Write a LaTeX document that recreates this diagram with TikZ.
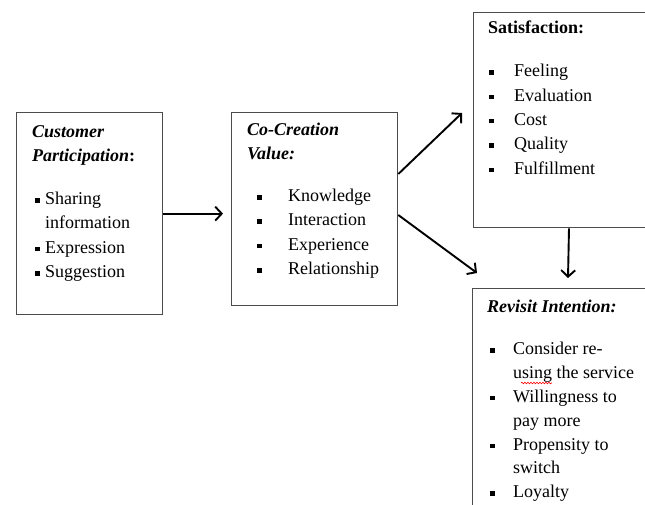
\documentclass[tikz,border=0pt]{standalone}
\usepackage{fontspec}
\setmainfont{LiberationSerif}[Extension=.ttf, UprightFont=*-Regular, BoldFont=*-Bold, ItalicFont=*-Italic, BoldItalicFont=*-BoldItalic]
\usetikzlibrary{arrows.meta,decorations.pathmorphing}
\newcommand\bsq{\rule[2pt]{4.5pt}{4.5pt}}
\newcommand\bli[3]{\hbox{\rlap{\kern#1\bsq}\kern#2\relax #3}}
\newcommand\cli[2]{\hbox{\kern#1\relax #2}}
\begin{document}
\begin{tikzpicture}[x=1pt,y=-1pt,
  box/.style={draw=black!70, line width=1.3pt, anchor=north west, inner sep=0pt},
  txt/.style={anchor=base west, inner sep=0pt, font=\fontsize{18}{24.3}\selectfont},
  arr/.style={line width=1.9pt, -{Straight Barb[length=6.5pt,width=14pt]}}]
\useasboundingbox (0,0) rectangle (645,504);
\clip (0,0) rectangle (645,504);
% boxes
\node[box, minimum width=146pt, minimum height=202pt] (cp) at (16,112) {};
\node[box, minimum width=166pt, minimum height=193pt] (cc) at (231,112) {};
\node[box, minimum width=200pt, minimum height=215pt] (sat) at (473,12) {};
\node[box, minimum width=200pt, minimum height=240pt] (ri) at (472,288) {};
% texts
\node[txt] (cpt) at (32,137) {\vtop{\baselineskip=24.3pt
  \hbox{\textbf{\textit{Customer}}}
  \hbox{\textbf{\textit{Participation}:}}
  \vskip19pt
  \bli{3pt}{13pt}{Sharing}
  \cli{13pt}{information}
  \bli{3pt}{13pt}{Expression}
  \bli{3pt}{13pt}{Suggestion}}};
\node[txt] (cct) at (247,135) {\vtop{\baselineskip=24.3pt
  \hbox{\textbf{\textit{Co-Creation}}}
  \hbox{\textbf{\textit{Value:}}}
  \vskip18pt
  \bli{10pt}{41pt}{Knowledge}
  \bli{10pt}{41pt}{Interaction}
  \bli{10pt}{41pt}{Experience}
  \bli{10pt}{41pt}{Relationship}}};
\node[txt] (satt) at (488,33) {\vtop{\baselineskip=24.3pt
  \hbox{\textbf{Satisfaction:}}
  \vskip19.5pt
  \bli{1pt}{26pt}{Feeling}
  \bli{1pt}{26pt}{Evaluation}
  \bli{1pt}{26pt}{Cost}
  \bli{1pt}{26pt}{Quality}
  \bli{1pt}{26pt}{Fulfillment}}};
\node[txt] (rit) at (487,312) {\vtop{\baselineskip=23.8pt
  \hbox{\textbf{\textit{Revisit Intention:}}}
  \vskip19pt
  \bli{3pt}{26pt}{Consider re-}
  \cli{26pt}{using the service}
  \bli{3pt}{26pt}{Willingness to}
  \cli{26pt}{pay more}
  \bli{3pt}{26pt}{Propensity to}
  \cli{26pt}{switch}
  \bli{3pt}{26pt}{Loyalty}}};
% spell-check underline
\draw[red, line width=0.6pt, decorate, decoration={snake, amplitude=0.8pt, segment length=3pt}] (521,383) -- (552,383);
% arrows
\coordinate (a2e) at (462,113);
\coordinate (a3e) at (477,273);
\draw[arr, shorten >=8pt] (cp.east) -- (cp.east -| cc.west);
\draw[arr] ([yshift=-62pt]cc.north east) -- (a2e);
\draw[arr] ([yshift=-103pt]cc.north east) -- (a3e);
\draw[arr] ([xshift=96pt]sat.south west) -- ([xshift=96pt,yshift=10pt]ri.north west);
\end{tikzpicture}
\end{document}
